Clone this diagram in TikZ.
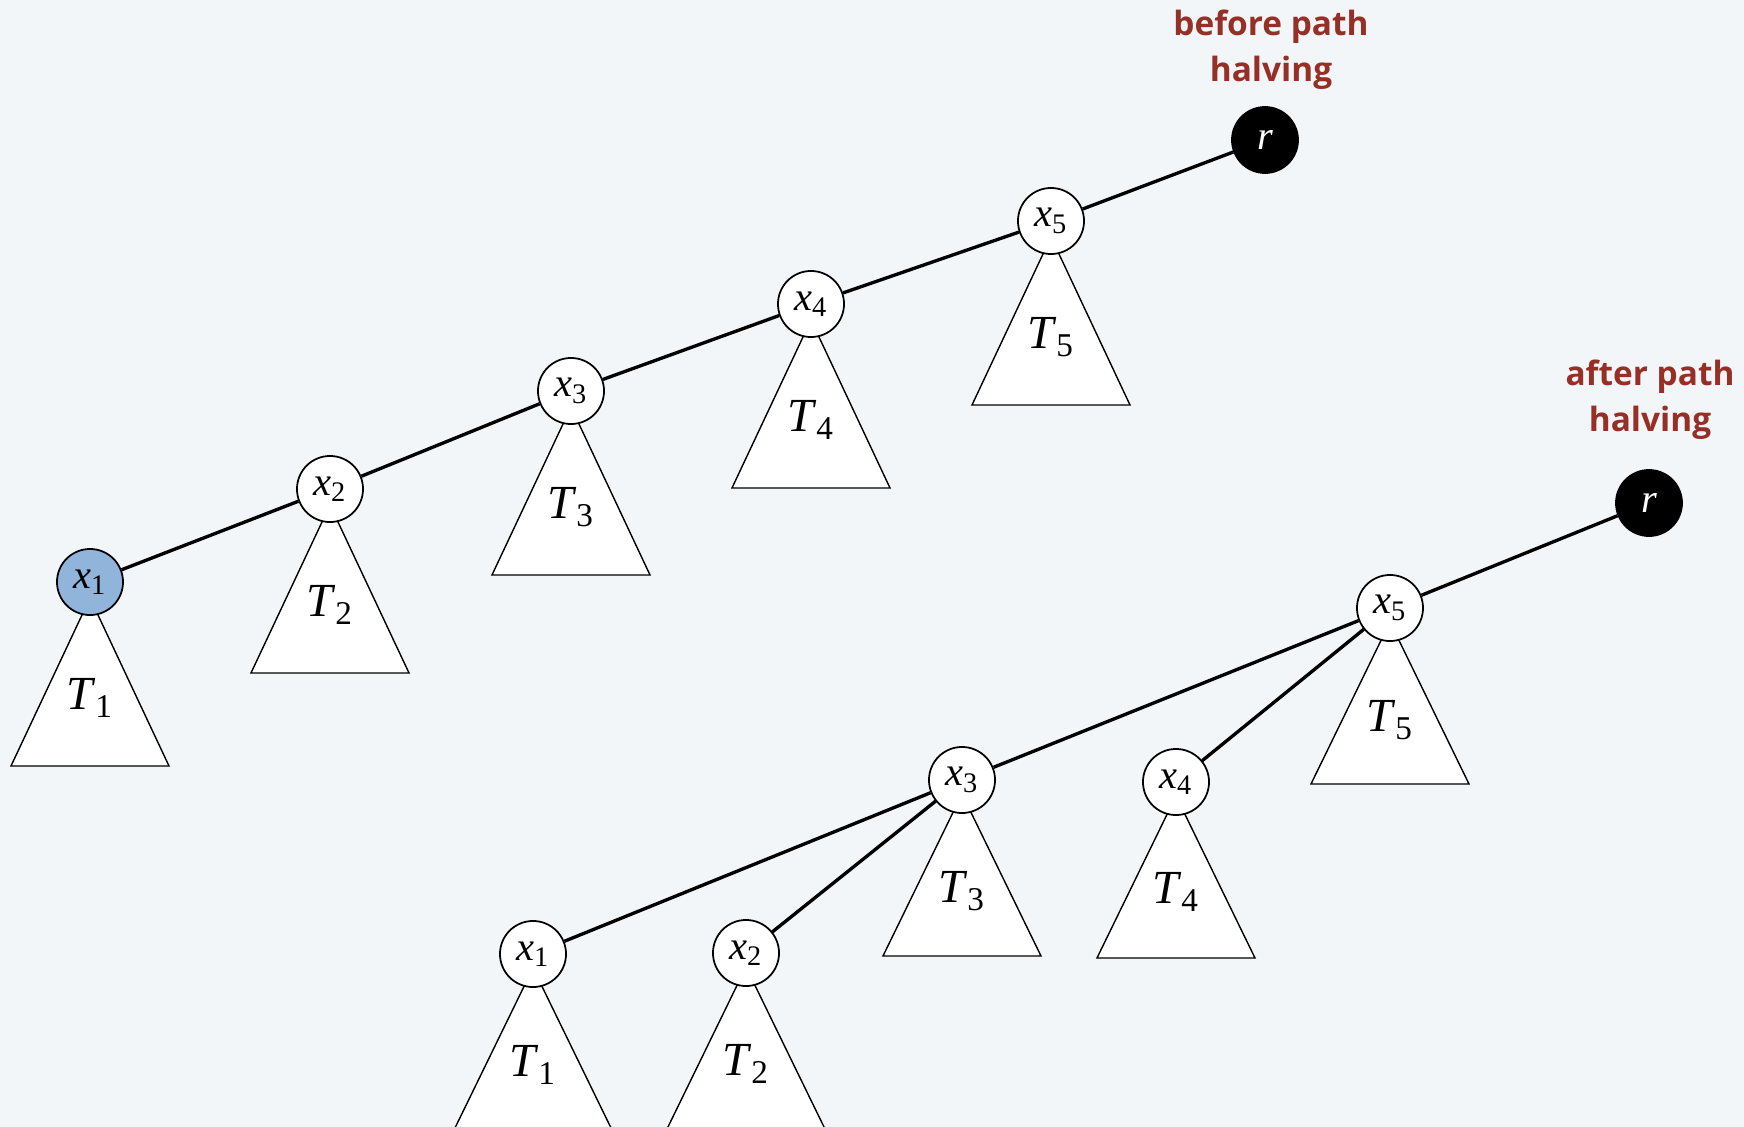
\documentclass[tikz,border=0pt]{standalone}
\usepackage{fontspec}
\setmainfont{Liberation Serif}
\newfontfamily\notefont{Open Sans}
\definecolor{bgcol}{RGB}{243,246,249}
\definecolor{hotcol}{RGB}{145,180,218}
\definecolor{notecol}{RGB}{150,48,38}
\newcommand{\lab}[2]{\textit{#1}\textsubscript{#2}}

\begin{document}
\begin{tikzpicture}[x=0.01cm,y=-0.01cm,
    vertex/.style={circle,draw,line width=0.5pt,fill=white,minimum size=0.66cm,
      inner sep=0pt,font=\fontsize{11.5}{13}\selectfont},
    subtree/.style={draw,line width=0.4pt,fill=white},
    treelabel/.style={font=\fontsize{13.5}{15}\selectfont},
    note/.style={align=center,text=notecol,font=\notefont\bfseries\fontsize{9.5}{13}\selectfont}]

  \path[use as bounding box,fill=bgcol] (0,0) rectangle (1744,1127);

  % before path halving
  \draw[subtree] (90,598)   -- ++(-79,168) -- ++(158,0) -- cycle;
  \draw[subtree] (330,505)  -- ++(-79,168) -- ++(158,0) -- cycle;
  \draw[subtree] (571,407)  -- ++(-79,168) -- ++(158,0) -- cycle;
  \draw[subtree] (811,320)  -- ++(-79,168) -- ++(158,0) -- cycle;
  \draw[subtree] (1051,237) -- ++(-79,168) -- ++(158,0) -- cycle;

  % after path halving
  \draw[subtree] (1390,622) -- ++(-79,162) -- ++(158,0) -- cycle;
  \draw[subtree] (1176,796) -- ++(-79,162) -- ++(158,0) -- cycle;
  \draw[subtree] (962,794)  -- ++(-79,162) -- ++(158,0) -- cycle;
  \draw[subtree] (533,968)  -- ++(-79,162) -- ++(158,0) -- cycle;
  \draw[subtree] (746,967)  -- ++(-79,162) -- ++(158,0) -- cycle;

  \begin{scope}[every node/.style={treelabel}]
    \node (ta1) at (90,698)   {\lab{T}{1}};
    \node (ta2) at (330,605)  {\lab{T}{2}};
    \node (ta3) at (571,507)  {\lab{T}{3}};
    \node (ta4) at (811,420)  {\lab{T}{4}};
    \node (ta5) at (1051,337) {\lab{T}{5}};
    \node (tb5) at (1390,720) {\lab{T}{5}};
    \node (tb4) at (1176,892) {\lab{T}{4}};
    \node (tb3) at (962,891)  {\lab{T}{3}};
    \node (tb1) at (533,1065) {\lab{T}{1}};
    \node (tb2) at (746,1064) {\lab{T}{2}};
  \end{scope}

  \begin{scope}[every node/.style={vertex}]
    \node[fill=hotcol] (a1) at (90,582) {\lab{x}{1}};
    \node (a2) at (330,489)  {\lab{x}{2}};
    \node (a3) at (571,391)  {\lab{x}{3}};
    \node (a4) at (811,304)  {\lab{x}{4}};
    \node (a5) at (1051,221) {\lab{x}{5}};
    \node[fill=black,text=white] (ar) at (1265,140) {\textit{r}};

    \node (b1) at (533,954)  {\lab{x}{1}};
    \node (b2) at (746,953)  {\lab{x}{2}};
    \node (b3) at (962,780)  {\lab{x}{3}};
    \node (b4) at (1176,782) {\lab{x}{4}};
    \node (b5) at (1390,608) {\lab{x}{5}};
    \node[fill=black,text=white] (br) at (1649,503) {\textit{r}};
  \end{scope}

  \begin{scope}[every edge/.style={draw,line width=0.95pt}]
    \path (ar) edge (a5);
    \path (a5) edge (a4);
    \path (a4) edge (a3);
    \path (a3) edge (a2);
    \path (a2) edge (a1);

    \path (br) edge (b5);
    \path (b5) edge (b3);
    \path (b5) edge (b4);
    \path (b3) edge (b1);
    \path (b3) edge (b2);
  \end{scope}

  \node[note] (before) at (1271,50)  {before path\\halving};
  \node[note] (after)  at (1650,400) {after path\\halving};

\end{tikzpicture}
\end{document}
